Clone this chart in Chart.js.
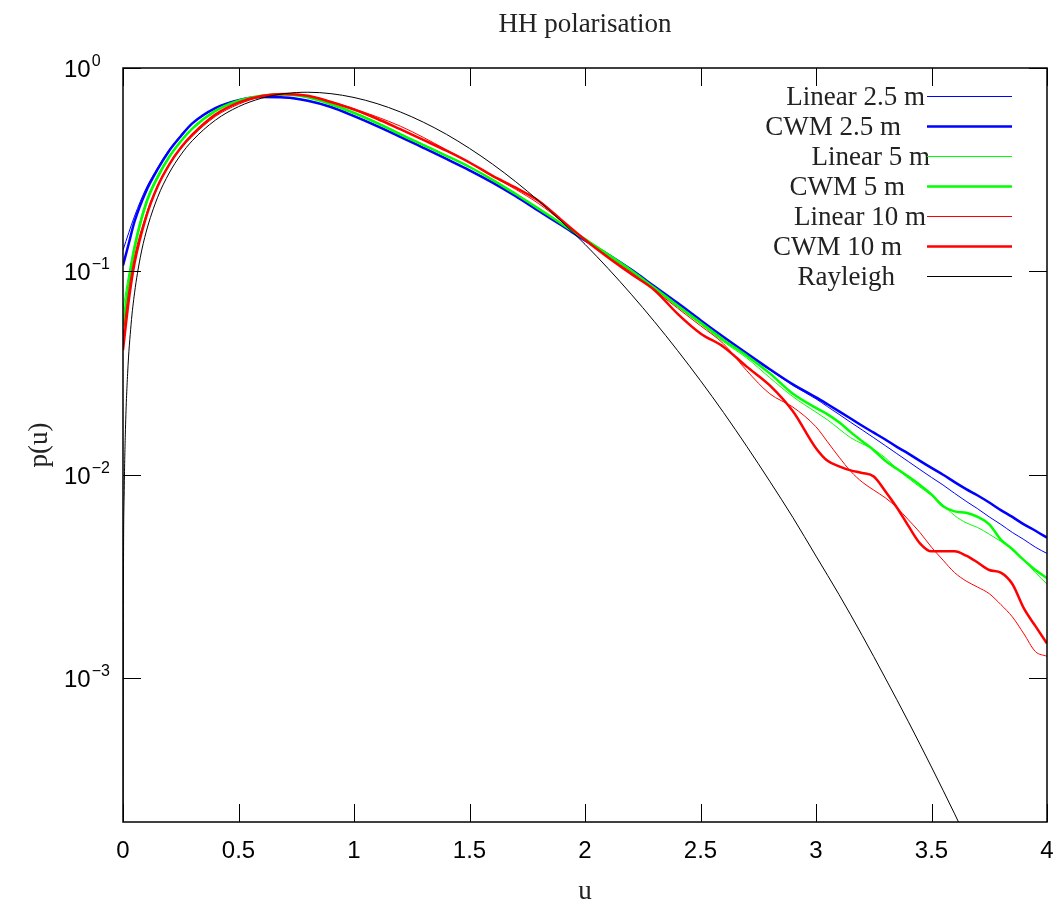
<!DOCTYPE html>
<html><head><meta charset="utf-8">
<script src="https://cdn.jsdelivr.net/npm/chart.js@4/dist/chart.umd.min.js"></script>
<style>html,body{margin:0;padding:0;background:#fff;}canvas{display:block;}</style>
</head><body>
<canvas id="c" width="1064" height="911"></canvas>
<script>
// ---- data ----
const u = [0, 0.025, 0.05, 0.1, 0.15, 0.2, 0.25, 0.3, 0.4, 0.5, 0.6, 0.7, 0.8, 0.9, 1.0, 1.1, 1.2, 1.3, 1.4, 1.5,
  1.6, 1.7, 1.8, 1.9, 2.0, 2.1, 2.2, 2.3, 2.4, 2.5, 2.6, 2.7, 2.8, 2.9, 3.0, 3.05, 3.1, 3.15, 3.2, 3.25,
  3.3, 3.35, 3.4, 3.45, 3.5, 3.55, 3.6, 3.65, 3.7, 3.75, 3.8, 3.85, 3.9, 3.95, 4.0];

const linear25 = [0.127, 0.155, 0.187, 0.256, 0.323, 0.396, 0.466, 0.536, 0.636, 0.695, 0.718, 0.715, 0.690, 0.643, 0.582, 0.520, 0.461, 0.407, 0.358, 0.315,
  0.274, 0.235, 0.199, 0.169, 0.143, 0.122, 0.102, 0.0845, 0.070, 0.0575, 0.0474, 0.0393, 0.0328, 0.0275, 0.0236, 0.0216, 0.0198, 0.0181, 0.0166, 0.0152,
  0.0139, 0.0127, 0.0116, 0.0106, 0.0097, 0.0089, 0.0081, 0.0074, 0.0068, 0.0062, 0.0057, 0.0052, 0.0048, 0.0044, 0.0041];

const cwm25 = [0.107, 0.137, 0.176, 0.248, 0.318, 0.392, 0.462, 0.534, 0.635, 0.695, 0.720, 0.717, 0.690, 0.643, 0.580, 0.518, 0.459, 0.405, 0.357, 0.314,
  0.273, 0.234, 0.198, 0.168, 0.142, 0.121, 0.102, 0.0845, 0.070, 0.0575, 0.0475, 0.0395, 0.0330, 0.0278, 0.0240, 0.0222, 0.0205, 0.0189, 0.0174, 0.0161,
  0.0149, 0.0137, 0.0127, 0.0117, 0.0108, 0.0100, 0.0092, 0.0085, 0.0079, 0.0073, 0.0067, 0.0062, 0.0057, 0.0053, 0.0049];

const linear5 = [0.065, 0.097, 0.137, 0.222, 0.297, 0.370, 0.440, 0.507, 0.618, 0.692, 0.730, 0.740, 0.720, 0.666, 0.606, 0.541, 0.477, 0.421, 0.372, 0.327,
  0.282, 0.240, 0.203, 0.171, 0.144, 0.121, 0.100, 0.082, 0.067, 0.055, 0.045, 0.0375, 0.0300, 0.0242, 0.0203, 0.0186, 0.0168, 0.0152, 0.0142, 0.0133,
  0.0121, 0.0107, 0.0096, 0.0087, 0.0079, 0.0071, 0.0063, 0.0058, 0.0055, 0.0051, 0.0047, 0.0043, 0.0038, 0.0033, 0.0029];

const cwm5 = [0.054, 0.088, 0.130, 0.215, 0.290, 0.365, 0.435, 0.503, 0.615, 0.690, 0.730, 0.740, 0.718, 0.663, 0.601, 0.536, 0.472, 0.418, 0.370, 0.326,
  0.282, 0.240, 0.203, 0.171, 0.144, 0.121, 0.101, 0.083, 0.068, 0.056, 0.046, 0.0385, 0.0315, 0.0250, 0.0213, 0.0198, 0.0181, 0.0162, 0.0146, 0.0132,
  0.0117, 0.0107, 0.0098, 0.0089, 0.0080, 0.0070, 0.0066, 0.0065, 0.0062, 0.0057, 0.0048, 0.0043, 0.0038, 0.0034, 0.0031];

const linear10 = [0.048, 0.080, 0.118, 0.190, 0.265, 0.335, 0.400, 0.462, 0.578, 0.663, 0.722, 0.742, 0.730, 0.685, 0.630, 0.575, 0.518, 0.456, 0.396, 0.343,
  0.293, 0.253, 0.215, 0.176, 0.143, 0.118, 0.099, 0.081, 0.066, 0.054, 0.044, 0.0325, 0.0250, 0.0215, 0.0172, 0.0145, 0.0122, 0.0104, 0.0092, 0.0084,
  0.0077, 0.0069, 0.0060, 0.0052, 0.0044, 0.0038, 0.0033, 0.0030, 0.0028, 0.0026, 0.0023, 0.0020, 0.00165, 0.00135, 0.00128];

const cwm10 = [0.041, 0.072, 0.110, 0.185, 0.262, 0.335, 0.405, 0.470, 0.590, 0.675, 0.728, 0.745, 0.730, 0.680, 0.625, 0.563, 0.500, 0.443, 0.392, 0.343,
  0.295, 0.258, 0.222, 0.178, 0.143, 0.117, 0.097, 0.081, 0.062, 0.0495, 0.0425, 0.0340, 0.0275, 0.0205, 0.0135, 0.0117, 0.0110, 0.0105, 0.0102, 0.0098,
  0.0083, 0.0069, 0.0056, 0.0046, 0.0042, 0.0042, 0.0042, 0.0040, 0.0037, 0.0034, 0.0033, 0.0029, 0.0022, 0.0018, 0.00148];

const uRayleigh = [0.0001, 0.002, 0.005, 0.01, 0.02, 0.035, 0.05, 0.075, 0.1, 0.15, 0.2, 0.25, 0.3, 0.4, 0.5, 0.6, 0.7, 0.8, 0.9, 1.0,
  1.1, 1.2, 1.3, 1.4, 1.5, 1.6, 1.7, 1.8, 1.9, 2.0, 2.1, 2.2, 2.3, 2.4, 2.5, 2.6, 2.7, 2.8, 2.9, 3.0,
  3.1, 3.2, 3.3, 3.4, 3.5, 3.6, 3.7];
const rayleigh = [0.000157, 0.00314, 0.00785, 0.0157, 0.0314, 0.0549, 0.0784, 0.1173, 0.1559, 0.2315, 0.3044, 0.3739, 0.4391, 0.5541, 0.6454, 0.7104, 0.7486, 0.7600, 0.7479, 0.7161,
  0.6680, 0.6083, 0.5416, 0.4720, 0.4024, 0.3365, 0.2759, 0.2219, 0.1752, 0.1358, 0.1033, 0.0772, 0.0567, 0.0409, 0.0290, 0.0202, 0.0138, 0.00928, 0.00616, 0.00398,
  0.00257, 0.00162, 0.00100, 0.000610, 0.000365, 0.000215, 0.000124];

const seriesLabels = ['Linear 2.5 m', 'CWM 2.5 m', 'Linear 5 m', 'CWM 5 m', 'Linear 10 m', 'CWM 10 m', 'Rayleigh'];
const xTicks = [0, 0.5, 1, 1.5, 2, 2.5, 3, 3.5, 4];
const xTickLabels = ['0', '0.5', '1', '1.5', '2', '2.5', '3', '3.5', '4'];
const yTicks = [0.001, 0.01, 0.1, 1];
const yTickExponents = ['-3', '-2', '-1', '0'];
const titleText = 'HH polarisation';
const xTitle = 'u';
const yTitle = 'p(u)';
const yMin = 1.96e-4, yMax = 1;

// ---- styles ----
const colors = ['#0000ff', '#0000ff', '#00ff00', '#00ff00', '#ff0000', '#ff0000', '#000000'];
const widths = [1, 2.5, 1, 2.5, 1, 2.5, 1];
const legendTextRight = [925, 901, 930, 905, 926, 902, 895];
const serif = '"Liberation Serif", "DejaVu Serif", serif';
const sans = '"Liberation Sans", Arial, sans-serif';

const seriesY = [linear25, cwm25, linear5, cwm5, linear10, cwm10, rayleigh];
const seriesX = [u, u, u, u, u, u, uRayleigh];

const datasets = seriesY.map((vals, i) => ({
  label: seriesLabels[i],
  data: vals.map((v, k) => ({x: seriesX[i][k], y: v})),
  borderColor: colors[i],
  backgroundColor: colors[i],
  borderWidth: widths[i],
  pointRadius: 0,
  fill: false,
  cubicInterpolationMode: 'monotone',
  borderJoinStyle: 'round',
  order: seriesLabels.length - i
}));

const decor = {
  id: 'decor',
  afterDraw(chart) {
    const {ctx, chartArea: a, scales: {x, y}} = chart;
    ctx.save();
    // inward ticks
    ctx.strokeStyle = '#000';
    ctx.lineWidth = 1;
    ctx.beginPath();
    xTicks.forEach(v => {
      const px = Math.round(x.getPixelForValue(v)) + 0.5;
      ctx.moveTo(px, a.bottom); ctx.lineTo(px, a.bottom - 18);
      ctx.moveTo(px, a.top); ctx.lineTo(px, a.top + 18);
    });
    yTicks.forEach(v => {
      const py = Math.round(y.getPixelForValue(v)) + 0.5;
      ctx.moveTo(a.left, py); ctx.lineTo(a.left + 18, py);
      ctx.moveTo(a.right, py); ctx.lineTo(a.right - 18, py);
    });
    ctx.stroke();
    // frame
    ctx.lineWidth = 1.5;
    ctx.strokeRect(a.left, a.top, a.right - a.left, a.bottom - a.top);

    // x tick labels
    ctx.fillStyle = '#000';
    ctx.font = '24px ' + sans;
    ctx.textAlign = 'center';
    ctx.textBaseline = 'alphabetic';
    xTicks.forEach((v, i) => {
      ctx.fillText(xTickLabels[i], x.getPixelForValue(v), a.bottom + 36);
    });
    // y tick labels 10^n
    yTicks.forEach((v, i) => {
      const py = y.getPixelForValue(v);
      ctx.textAlign = 'left';
      ctx.font = '24px ' + sans;
      ctx.fillText('10', 64, py + 9);
      const w = ctx.measureText('10').width;
      ctx.font = '16px ' + sans;
      ctx.fillText(yTickExponents[i].replace('-', '\u2212'), 64 + w + 1, py - 2);
    });

    // title and axis titles
    ctx.fillStyle = '#222';
    ctx.font = '27px ' + serif;
    ctx.textAlign = 'center';
    ctx.fillText(titleText, (a.left + a.right) / 2, 32);
    ctx.fillText(xTitle, (a.left + a.right) / 2, 899);
    ctx.save();
    ctx.translate(47, (a.top + a.bottom) / 2);
    ctx.rotate(-Math.PI / 2);
    ctx.fillText(yTitle, 0, 0);
    ctx.restore();

    // legend
    seriesLabels.forEach((lab, i) => {
      const ly = 96 + i * 30;
      ctx.fillStyle = '#222';
      ctx.font = '27px ' + serif;
      ctx.textAlign = 'right';
      ctx.fillText(lab, legendTextRight[i], ly + 9);
      ctx.strokeStyle = colors[i];
      ctx.lineWidth = widths[i];
      ctx.beginPath();
      ctx.moveTo(927, ly + 0.5); ctx.lineTo(1012, ly + 0.5);
      ctx.stroke();
    });
    ctx.restore();
  }
};

new Chart(document.getElementById('c'), {
  type: 'line',
  data: {datasets},
  options: {
    responsive: false,
    animation: false,
    devicePixelRatio: 1,
    layout: {padding: {left: 0, right: 17, top: 68, bottom: 0}},
    plugins: {legend: {display: false}, tooltip: {enabled: false}, title: {display: false}},
    scales: {
      x: {
        type: 'linear', min: 0, max: 4,
        grid: {display: false, drawTicks: false}, border: {display: false},
        ticks: {display: false},
        afterBuildTicks(s) { s.ticks = xTicks.map(v => ({value: v})); },
        afterFit(s) { s.height = 89; }
      },
      y: {
        type: 'logarithmic', min: yMin, max: yMax,
        grid: {display: false, drawTicks: false}, border: {display: false},
        ticks: {display: false},
        afterBuildTicks(s) { s.ticks = yTicks.map(v => ({value: v})); },
        afterFit(s) { s.width = 123; }
      }
    }
  },
  plugins: [decor]
});
</script>
</body></html>
